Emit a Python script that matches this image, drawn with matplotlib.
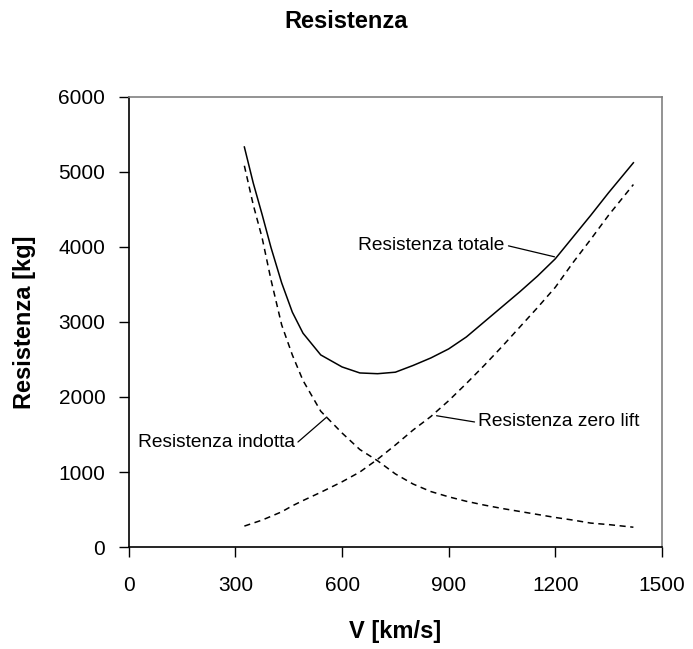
import matplotlib
matplotlib.use("Agg")
import matplotlib.pyplot as plt

# ── DATA ──────────────────────────────────────────────────────────────────────
velocity = [325, 350, 375, 400, 430, 460, 490, 540, 600, 650, 700, 750, 800,
            850, 900, 950, 1000, 1050, 1100, 1150, 1200, 1250, 1300, 1350, 1420]
res_totale = [5330, 4850, 4430, 3990, 3520, 3130, 2850, 2560, 2400, 2320, 2310,
              2330, 2420, 2520, 2640, 2800, 3000, 3200, 3400, 3610, 3840, 4130,
              4420, 4720, 5120]
res_indotta = [5080, 4560, 4120, 3560, 2960, 2560, 2220, 1810, 1520, 1300, 1150,
               975, 840, 740, 670, 610, 560, 515, 475, 435, 395, 360, 320, 300, 265]
res_zero_lift = [280, 320, 360, 410, 470, 550, 620, 730, 870, 1000, 1170, 1360,
                 1560, 1740, 1950, 2180, 2420, 2670, 2930, 3190, 3460, 3790, 4100,
                 4420, 4830]

x_ticks = [0, 300, 600, 900, 1200, 1500]
y_ticks = [0, 1000, 2000, 3000, 4000, 5000, 6000]

# ── STYLE ─────────────────────────────────────────────────────────────────────
plt.rcParams["font.family"] = ["Liberation Sans", "DejaVu Sans"]

fig = plt.figure(figsize=(6.93, 6.49), dpi=100, facecolor="white")
ax = fig.add_axes([0.186, 0.157, 0.769, 0.694])

ax.plot(velocity, res_totale, color="black", lw=1.1)
ax.plot(velocity, res_indotta, color="black", lw=1.1, dashes=(4, 3))
ax.plot(velocity, res_zero_lift, color="black", lw=1.1, dashes=(4, 3))

ax.set_xlim(0, 1500)
ax.set_ylim(0, 6000)
ax.set_xticks(x_ticks)
ax.set_yticks(y_ticks)
ax.tick_params(direction="out", length=7, width=1, color="black",
               labelsize=15, labelcolor="black")
ax.tick_params(axis="x", pad=14)
ax.tick_params(axis="y", pad=10)

for side in ("left", "bottom"):
    ax.spines[side].set_color("black")
    ax.spines[side].set_linewidth(1.2)
for side in ("top", "right"):
    ax.spines[side].set_color("#808080")
    ax.spines[side].set_linewidth(1.2)

ax.set_xlabel("V [km/s]", fontsize=17, fontweight="bold", labelpad=18)
ax.set_ylabel("Resistenza [kg]", fontsize=17, fontweight="bold", labelpad=16)
fig.suptitle("Resistenza", fontsize=17, fontweight="bold", y=0.985)

# labels with leader lines
line_kw = dict(arrowstyle="-", color="black", lw=0.9, shrinkA=0, shrinkB=0)
ax.annotate("Resistenza totale", xy=(1198, 3867), xytext=(644, 4013),
            fontsize=13.8, va="center", ha="left",
            arrowprops=dict(line_kw, relpos=(1.03, 0.5)))
ax.annotate("Resistenza zero lift", xy=(866, 1750), xytext=(982, 1667),
            fontsize=13.8, va="center", ha="left",
            arrowprops=dict(line_kw, relpos=(-0.02, 0.5)))
ax.annotate("Resistenza indotta", xy=(557, 1733), xytext=(467, 1400),
            fontsize=13.8, va="center", ha="right",
            arrowprops=dict(line_kw, relpos=(1.02, 0.5)))

fig.savefig("out.png", dpi=100)
